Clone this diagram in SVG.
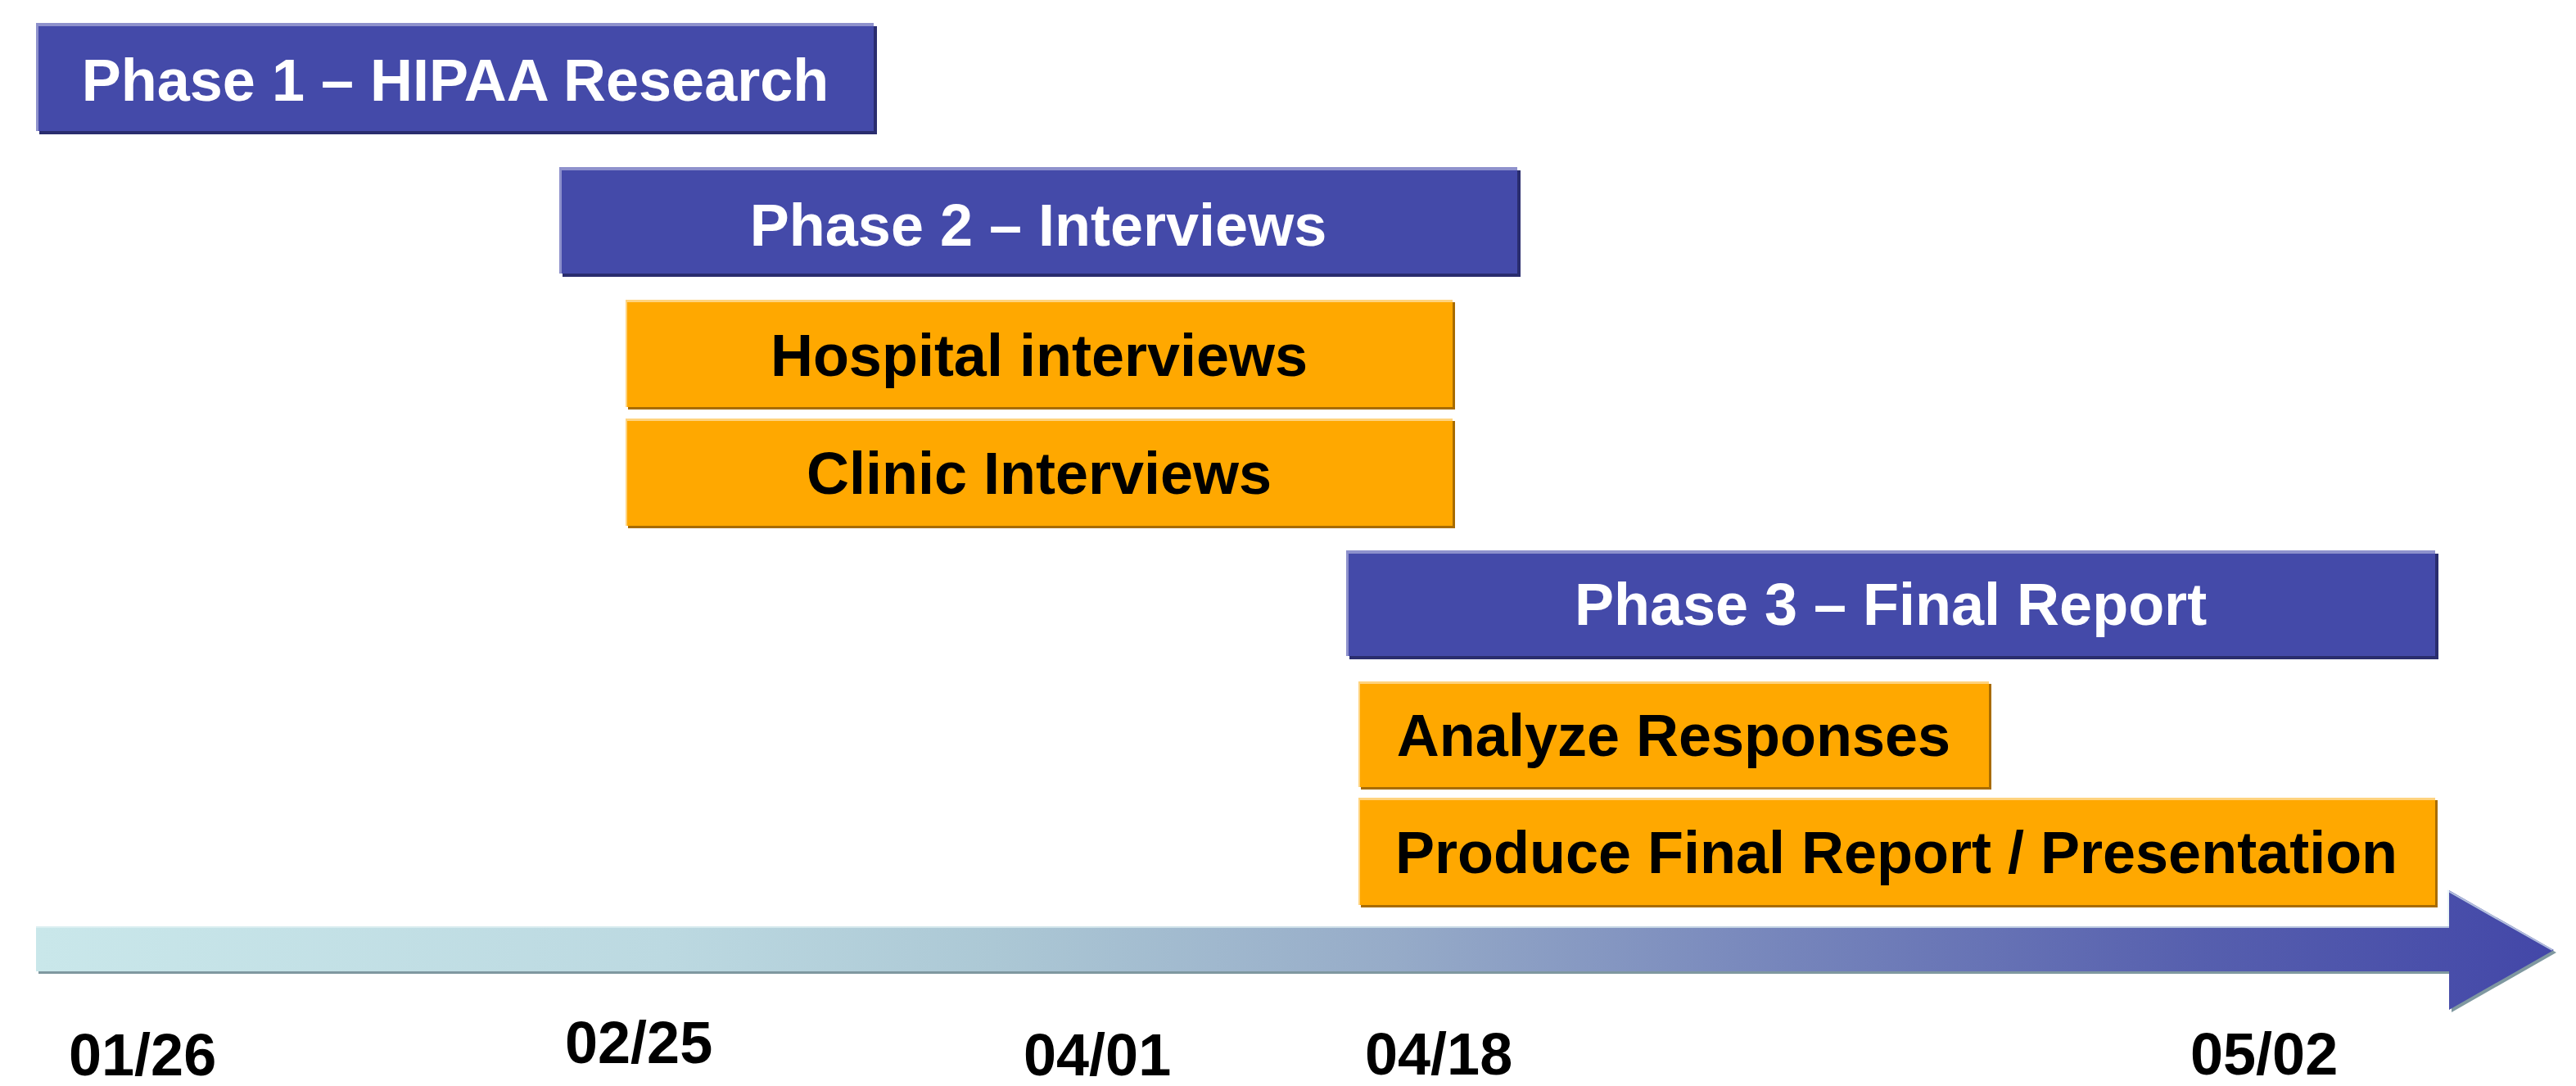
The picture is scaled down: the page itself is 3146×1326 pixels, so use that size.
<svg xmlns="http://www.w3.org/2000/svg" width="3146" height="1326" viewBox="0 0 3146 1326">
  <defs>
    <linearGradient id="axisGrad" gradientUnits="userSpaceOnUse" x1="44" y1="0" x2="3119" y2="0">
      <stop offset="0" stop-color="#c9e7ea"/>
      <stop offset="0.25" stop-color="#bcd9e1"/>
      <stop offset="0.38" stop-color="#acc8d5"/>
      <stop offset="0.54" stop-color="#96abc8"/>
      <stop offset="0.7" stop-color="#7584bb"/>
      <stop offset="0.86" stop-color="#565fae"/>
      <stop offset="1" stop-color="#4347a8"/>
    </linearGradient>
    <style>
      .phase { fill: #444aa9; }
      .phase-shadow { fill: #2a2d6e; }
      .phase-hi { fill: #8e91cc; }
      .task { fill: #ffa800; }
      .task-shadow { fill: #a86c00; }
      .task-hi { fill: #ffd37e; }
      .lbl { font-family: "Liberation Sans", Arial, sans-serif; font-weight: bold; font-size: 72px; text-anchor: middle; }
      .lbl-w { fill: #ffffff; }
      .lbl-k { fill: #000000; }
      .date { font-family: "Liberation Sans", Arial, sans-serif; font-weight: bold; font-size: 72px; fill: #000000; }
    </style>
  </defs>
  <rect width="3146" height="1326" fill="#ffffff"/>

  <!-- timeline axis -->
  <g id="connectors">
    <path d="M47,1134 L2994,1134 L2994,1090 L3122,1163 L2994,1236 L2994,1189 L47,1189 Z" fill="#7f98a0"/>
    <path d="M44,1131 L2991,1131 L2991,1087 L3119,1160 L2991,1233 L2991,1186 L44,1186 Z" fill="url(#axisGrad)"/>
    <polyline points="44,1132 2990,1132 2990,1088 3117,1160" fill="none" stroke="#e2f2f4" stroke-width="2" opacity="0.7"/>
  </g>

  <g id="phase1">
    <rect class="phase-shadow" x="48" y="32" width="1023" height="132"/>
    <rect class="phase" x="44" y="28" width="1023" height="132"/>
    <rect class="phase-hi" x="44" y="28" width="1023" height="4"/>
    <rect class="phase-hi" x="44" y="28" width="3" height="132"/>
    <text class="lbl lbl-w" x="556" y="123">Phase 1 – HIPAA Research</text>
  </g>

  <g id="phase2">
    <rect class="phase-shadow" x="687" y="208" width="1170" height="130"/>
    <rect class="phase" x="683" y="204" width="1170" height="130"/>
    <rect class="phase-hi" x="683" y="204" width="1170" height="4"/>
    <rect class="phase-hi" x="683" y="204" width="3" height="130"/>
    <text class="lbl lbl-w" x="1268" y="300">Phase 2 – Interviews</text>
  </g>

  <g id="hospital">
    <rect class="task-shadow" x="767" y="369" width="1010" height="131"/>
    <rect class="task" x="764" y="366" width="1010" height="131"/>
    <rect class="task-hi" x="764" y="366" width="1010" height="3"/>
    <rect class="task-hi" x="764" y="366" width="2" height="131"/>
    <text class="lbl lbl-k" x="1269" y="459">Hospital interviews</text>
  </g>

  <g id="clinic">
    <rect class="task-shadow" x="767" y="514" width="1010" height="131"/>
    <rect class="task" x="764" y="511" width="1010" height="131"/>
    <rect class="task-hi" x="764" y="511" width="1010" height="3"/>
    <rect class="task-hi" x="764" y="511" width="2" height="131"/>
    <text class="lbl lbl-k" x="1269" y="603">Clinic Interviews</text>
  </g>

  <g id="phase3">
    <rect class="phase-shadow" x="1648" y="676" width="1330" height="129"/>
    <rect class="phase" x="1644" y="672" width="1330" height="129"/>
    <rect class="phase-hi" x="1644" y="672" width="1330" height="4"/>
    <rect class="phase-hi" x="1644" y="672" width="3" height="129"/>
    <text class="lbl lbl-w" x="2309" y="763">Phase 3 – Final Report</text>
  </g>

  <g id="analyze">
    <rect class="task-shadow" x="1662" y="835" width="770" height="129"/>
    <rect class="task" x="1659" y="832" width="770" height="129"/>
    <rect class="task-hi" x="1659" y="832" width="770" height="3"/>
    <rect class="task-hi" x="1659" y="832" width="2" height="129"/>
    <text class="lbl lbl-k" x="2044" y="923">Analyze Responses</text>
  </g>

  <g id="produce">
    <rect class="task-shadow" x="1662" y="977" width="1315" height="131"/>
    <rect class="task" x="1659" y="974" width="1315" height="131"/>
    <rect class="task-hi" x="1659" y="974" width="1315" height="3"/>
    <rect class="task-hi" x="1659" y="974" width="2" height="131"/>
    <text class="lbl lbl-k" x="2316" y="1066">Produce Final Report / Presentation</text>
  </g>

  <g id="dates">
    <text class="date" x="84" y="1313">01/26</text>
    <text class="date" x="690" y="1298">02/25</text>
    <text class="date" x="1250" y="1313">04/01</text>
    <text class="date" x="1667" y="1312">04/18</text>
    <text class="date" x="2675" y="1312">05/02</text>
  </g>
</svg>
